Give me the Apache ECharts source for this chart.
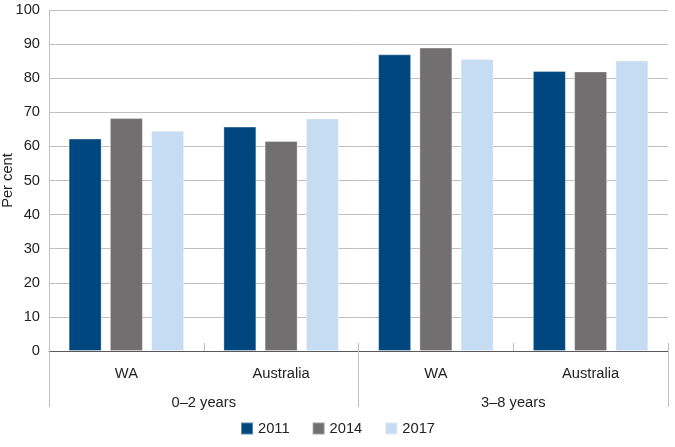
<!DOCTYPE html>
<html>
<head>
<meta charset="utf-8">
<script src="https://cdn.jsdelivr.net/npm/echarts@6/dist/echarts.min.js"></script>
<style>
html,body{margin:0;padding:0;background:#fff;}
#chart{width:675px;height:447px;}
</style>
</head>
<body>
<div id="chart"></div>
<script>
const subCategories = ['WA', 'Australia', 'WA', 'Australia'];
const groupCategories = ['0\u20132 years', '3\u20138 years'];
const seriesNames = ['2011', '2014', '2017'];
const values2011 = [62.3, 65.8, 87.0, 82.1];
const values2014 = [68.3, 61.6, 89.0, 82.0];
const values2017 = [64.6, 68.2, 85.6, 85.2];
const yTicks = [0, 100, 10];
const colors = ['#00467F', '#716F70', '#C6DCF3'];
const FONT = '"Liberation Sans", Arial, sans-serif';
const FS = 14.7;

const chart = echarts.init(document.getElementById('chart'), null, {renderer: 'canvas'});
const seriesData = [values2011, values2014, values2017];
chart.setOption({
  animation: false,
  color: colors,
  textStyle: {fontFamily: FONT},
  grid: {left: 49, right: 7, top: 10, bottom: 96, containLabel: false, outerBoundsMode: 'none'},
  legend: {
    bottom: 6, left: 'center',
    itemWidth: 12, itemHeight: 12, itemGap: 22,
    icon: 'rect',
    textStyle: {fontFamily: FONT, fontSize: FS, color: '#222'},
    data: seriesNames
  },
  xAxis: [
    {
      type: 'category', data: subCategories, position: 'bottom',
      axisLine: {show: true, lineStyle: {color: '#595959', width: 1}},
      axisTick: {show: true, inside: true, length: 8, lineStyle: {color: '#BFBFBF'}},
      axisLabel: {margin: 15, fontSize: FS, color: '#222', fontFamily: FONT},
      splitLine: {show: false}
    },
    {
      type: 'category', data: groupCategories, position: 'bottom',
      axisLine: {show: false},
      axisTick: {show: true, length: 56, lineStyle: {color: '#BFBFBF'}},
      axisLabel: {margin: 44, fontSize: FS, color: '#222', fontFamily: FONT},
      splitLine: {show: false}
    }
  ],
  yAxis: {
    type: 'value', min: yTicks[0], max: yTicks[1], interval: yTicks[2],
    name: 'Per cent', nameLocation: 'middle', nameGap: 34, nameRotate: 90,
    nameMoveOverlap: false,
    nameTextStyle: {fontSize: FS, color: '#222', fontFamily: FONT},
    axisLine: {show: true, lineStyle: {color: '#BFBFBF'}},
    axisTick: {show: false},
    axisLabel: {margin: 9, fontSize: FS, color: '#222', fontFamily: FONT},
    splitLine: {show: true, lineStyle: {color: '#BFBFBF', width: 1}}
  },
  series: seriesNames.map((n, i) => ({
    name: n, type: 'bar', xAxisIndex: 0, data: seriesData[i],
    barWidth: 33, barGap: '25%',
    itemStyle: {color: colors[i], borderColor: 'rgba(255,255,255,0.35)', borderWidth: 1}
  }))
});
</script>
</body>
</html>
